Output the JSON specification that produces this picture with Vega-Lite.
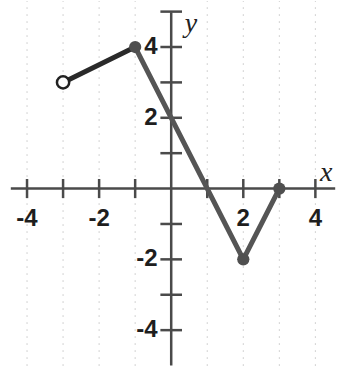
{
  "$schema": "https://vega.github.io/schema/vega-lite/v6.json",
  "width": 337,
  "height": 367,
  "padding": 0,
  "autosize": {"type": "fit", "contains": "padding"},
  "background": "white",
  "config": {"view": {"stroke": null}},
  "datasets": {
    "grid": [{"g": -4}, {"g": -3}, {"g": -2}, {"g": -1}, {"g": 1}, {"g": 2}, {"g": 3}, {"g": 4}],
    "xticks": [{"t": -4}, {"t": -3}, {"t": -2}, {"t": -1}, {"t": 1}, {"t": 2}, {"t": 3}, {"t": 4}],
    "yticks": [{"t": -4}, {"t": -3}, {"t": -2}, {"t": -1}, {"t": 1}, {"t": 2}, {"t": 3}, {"t": 4}, {"t": 5}],
    "curve": [
      {"seg": "a", "x": -3, "y": 3},
      {"seg": "a", "x": -1, "y": 4},
      {"seg": "b", "x": -1, "y": 4},
      {"seg": "b", "x": 2, "y": -2},
      {"seg": "b", "x": 3, "y": 0}
    ],
    "filled": [{"x": -1, "y": 4}, {"x": 2, "y": -2}, {"x": 3, "y": 0}],
    "open": [{"x": -3, "y": 3}],
    "xlabels": [{"v": -4, "label": "-4"}, {"v": -2, "label": "-2"}, {"v": 2, "label": "2"}, {"v": 4, "label": "4"}],
    "ylabels": [{"v": 4, "label": "4"}, {"v": 2, "label": "2"}, {"v": -2, "label": "-2"}, {"v": -4, "label": "-4"}]
  },
  "layer": [
    {
      "data": {"name": "grid"},
      "mark": {"type": "rule", "color": "#a8a8a8", "strokeWidth": 1, "strokeDash": [1, 6]},
      "encoding": {
        "x": {"field": "g", "type": "quantitative", "scale": {"domain": [-4.75, 4.6], "nice": false, "zero": false}, "axis": null},
        "y": {"datum": -5.0, "type": "quantitative", "scale": {"domain": [-4.9, 5.3], "nice": false, "zero": false}, "axis": null},
        "y2": {"datum": 5.3}
      }
    },
    {
      "data": {"values": [{"x1": -4.45, "x2": 4.55}]},
      "mark": {"type": "rule", "color": "#4a4a4a", "strokeWidth": 2.5},
      "encoding": {
        "x": {"field": "x1", "type": "quantitative"},
        "x2": {"field": "x2"},
        "y": {"datum": 0, "type": "quantitative"}
      }
    },
    {
      "data": {"values": [{"y1": -5.0, "y2": 4.98}]},
      "mark": {"type": "rule", "color": "#4a4a4a", "strokeWidth": 2.5},
      "encoding": {
        "y": {"field": "y1", "type": "quantitative"},
        "y2": {"field": "y2"},
        "x": {"datum": 0, "type": "quantitative"}
      }
    },
    {
      "data": {"name": "xticks"},
      "mark": {"type": "rule", "color": "#4a4a4a", "strokeWidth": 2.5},
      "encoding": {
        "x": {"field": "t", "type": "quantitative"},
        "y": {"datum": -0.27, "type": "quantitative"},
        "y2": {"datum": 0.27}
      }
    },
    {
      "data": {"name": "yticks"},
      "mark": {"type": "rule", "color": "#4a4a4a", "strokeWidth": 2.5},
      "encoding": {
        "y": {"field": "t", "type": "quantitative"},
        "x": {"datum": -0.3, "type": "quantitative"},
        "x2": {"datum": 0.3}
      }
    },
    {
      "data": {"name": "curve"},
      "mark": {"type": "line", "strokeWidth": 5, "strokeCap": "round", "strokeJoin": "round"},
      "encoding": {
        "x": {"field": "x", "type": "quantitative"},
        "y": {"field": "y", "type": "quantitative"},
        "color": {"field": "seg", "type": "nominal", "scale": {"domain": ["a", "b"], "range": ["#2a2a2a", "#555555"]}, "legend": null},
        "order": {"field": "x", "type": "quantitative"}
      }
    },
    {
      "data": {"name": "filled"},
      "mark": {"type": "point", "shape": "circle", "filled": true, "color": "#4f4f4f", "size": 150, "opacity": 1},
      "encoding": {
        "x": {"field": "x", "type": "quantitative"},
        "y": {"field": "y", "type": "quantitative"}
      }
    },
    {
      "data": {"name": "open"},
      "mark": {"type": "point", "shape": "circle", "filled": true, "fill": "white", "stroke": "#222222", "strokeWidth": 2.5, "size": 150, "opacity": 1},
      "encoding": {
        "x": {"field": "x", "type": "quantitative"},
        "y": {"field": "y", "type": "quantitative"}
      }
    },
    {
      "data": {"name": "xlabels"},
      "mark": {"type": "text", "font": "Liberation Sans", "fontWeight": "bold", "fontSize": 24, "color": "#1e1e1e", "align": "center", "baseline": "middle"},
      "encoding": {
        "x": {"field": "v", "type": "quantitative"},
        "y": {"datum": -0.85, "type": "quantitative"},
        "text": {"field": "label"}
      }
    },
    {
      "data": {"name": "ylabels"},
      "mark": {"type": "text", "font": "Liberation Sans", "fontWeight": "bold", "fontSize": 24, "color": "#1e1e1e", "align": "right", "baseline": "middle"},
      "encoding": {
        "y": {"field": "v", "type": "quantitative"},
        "x": {"datum": -0.38, "type": "quantitative"},
        "text": {"field": "label"}
      }
    },
    {
      "data": {"values": [{"x": 0.55, "y": 4.65, "label": "y"}, {"x": 4.3, "y": 0.45, "label": "x"}]},
      "mark": {"type": "text", "font": "Liberation Serif", "fontStyle": "italic", "fontSize": 28, "color": "#222222", "align": "center", "baseline": "middle"},
      "encoding": {
        "x": {"field": "x", "type": "quantitative"},
        "y": {"field": "y", "type": "quantitative"},
        "text": {"field": "label"}
      }
    }
  ]
}
